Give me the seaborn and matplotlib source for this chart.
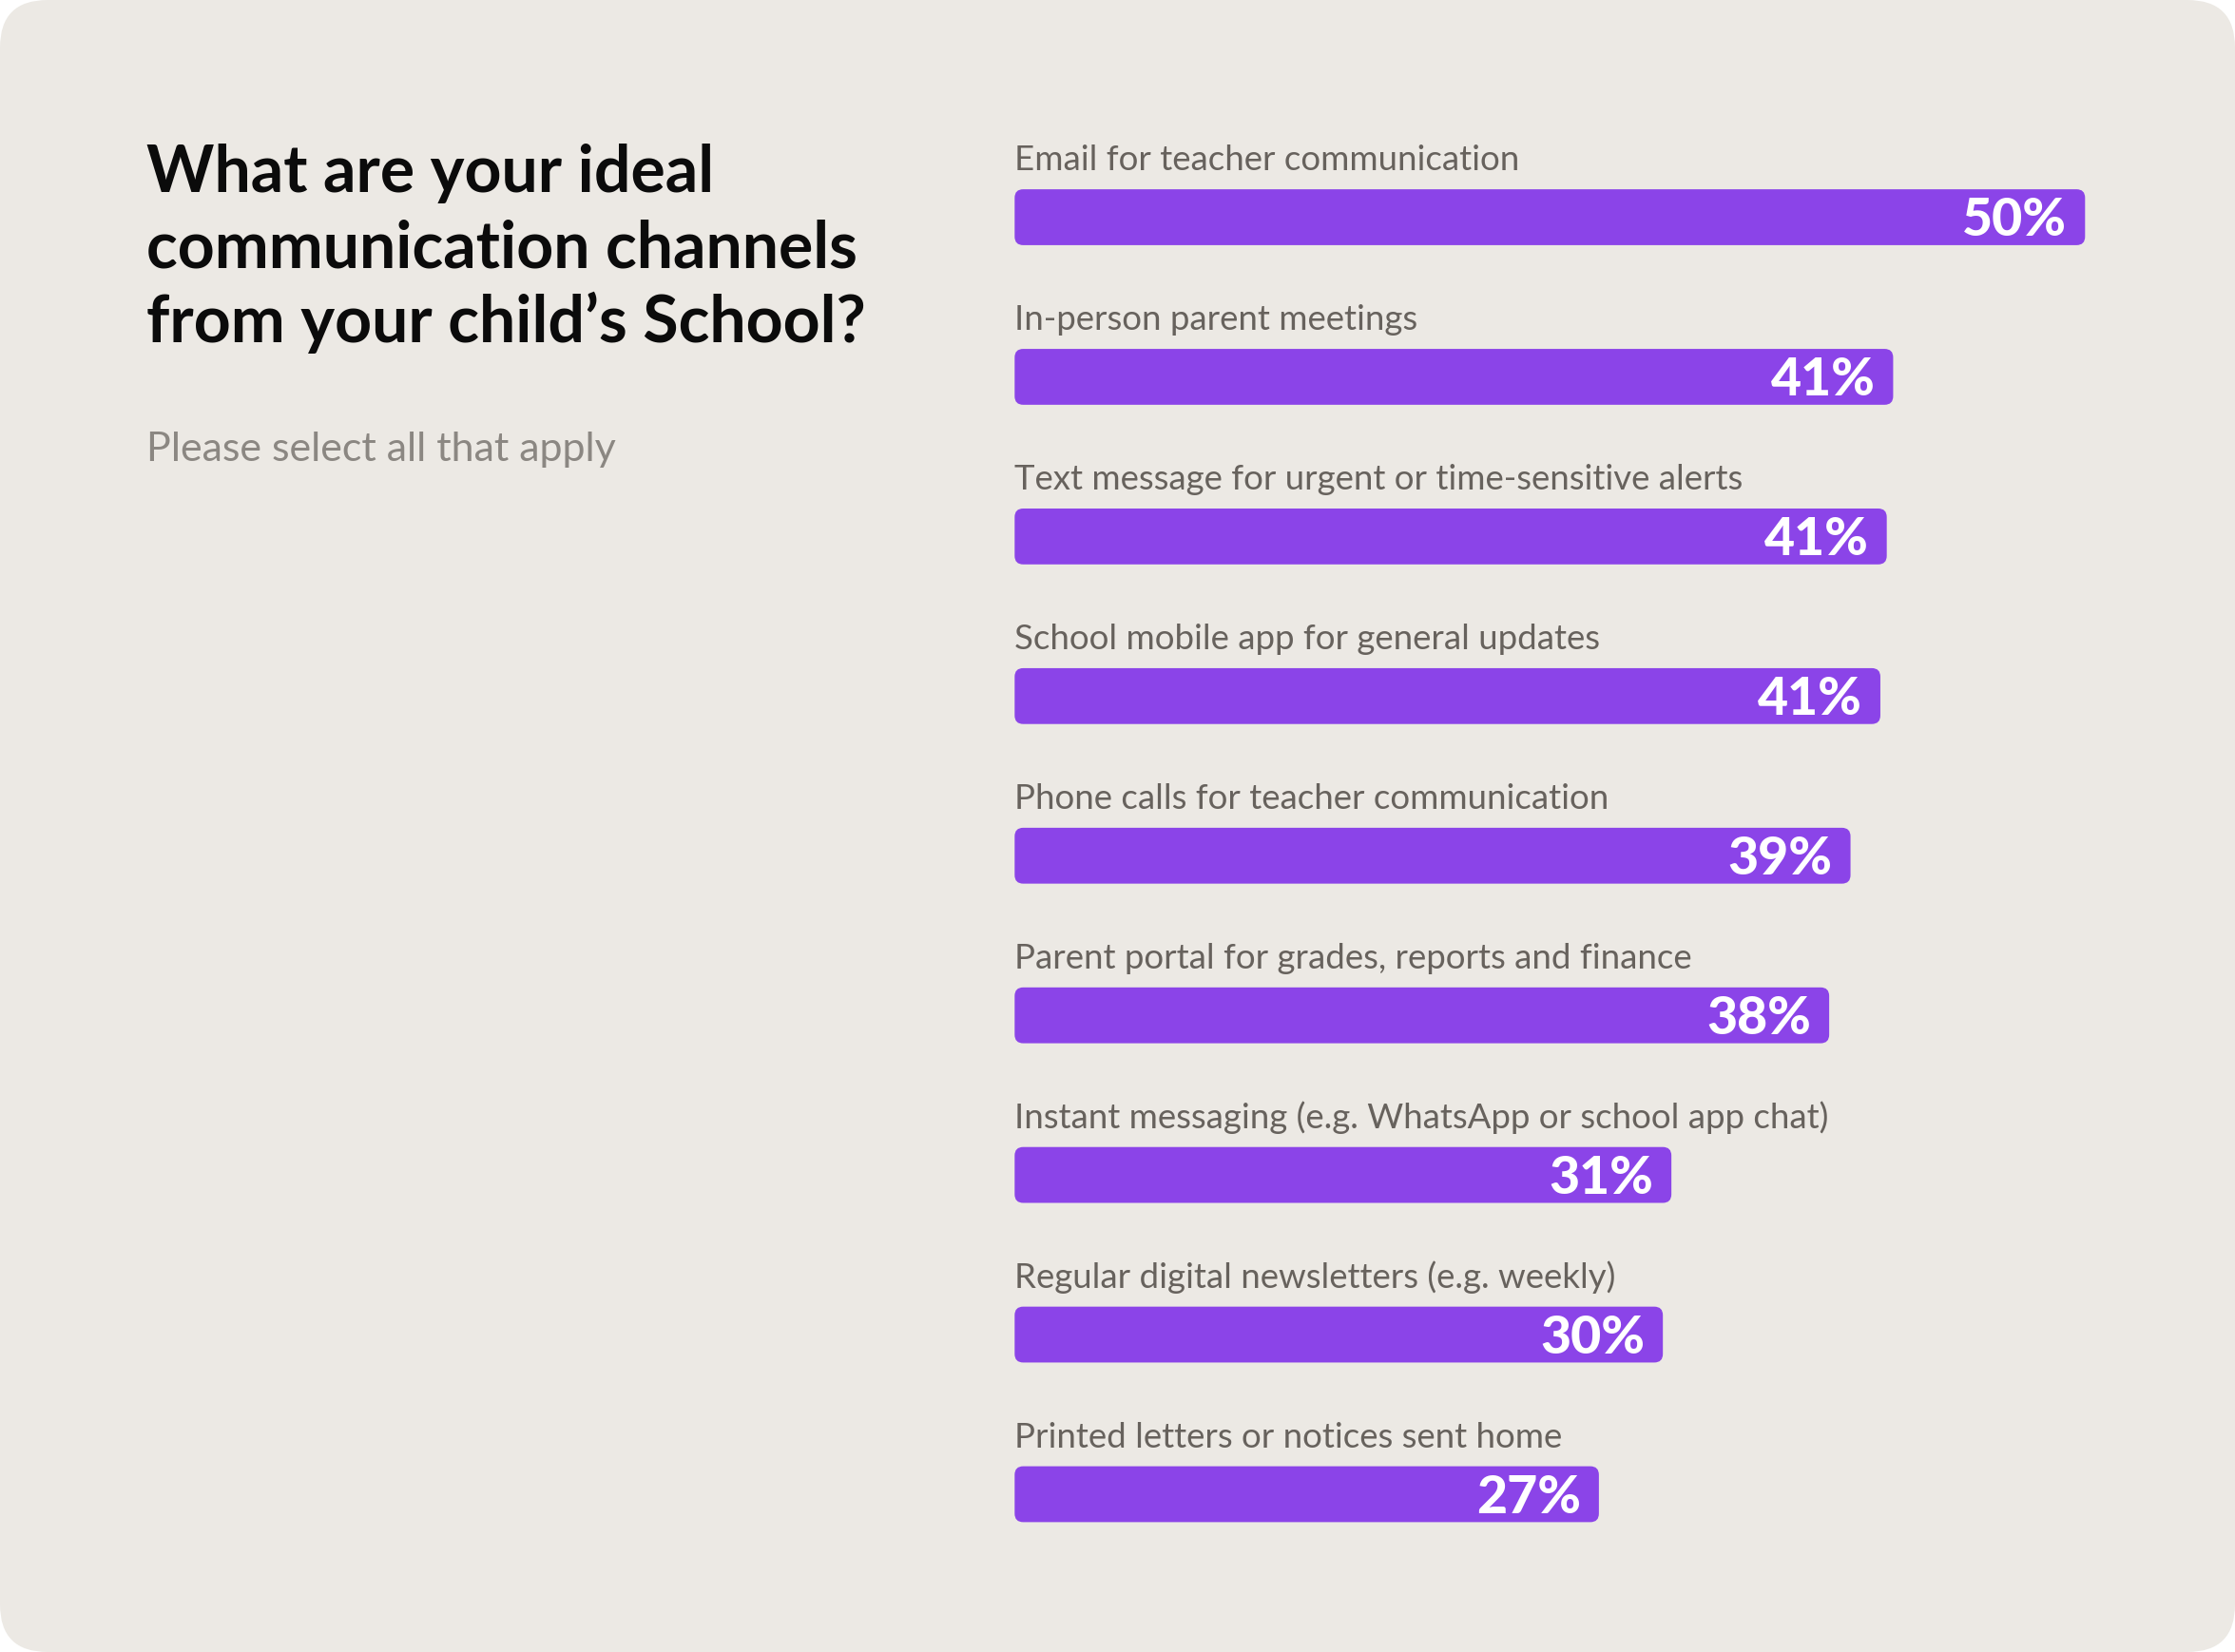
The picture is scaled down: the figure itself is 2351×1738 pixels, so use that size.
import matplotlib
matplotlib.use("Agg")
import matplotlib.pyplot as plt
from matplotlib.patches import FancyBboxPatch
import pandas as pd
import seaborn as sns

# ── Data ──────────────────────────────────────────────────────────────────────
categories = [
    "Email for teacher communication",
    "In-person parent meetings",
    "Text message for urgent or time-sensitive alerts",
    "School mobile app for general updates",
    "Phone calls for teacher communication",
    "Parent portal for grades, reports and finance",
    "Instant messaging (e.g. WhatsApp or school app chat)",
    "Regular digital newsletters (e.g. weekly)",
    "Printed letters or notices sent home",
]
values = [50.2, 41.2, 40.9, 40.6, 39.2, 38.2, 30.8, 30.4, 27.4]

title_lines = ["What are your ideal", "communication channels", "from your child\u2019s School?"]
subtitle = "Please select all that apply"

# ── Style ─────────────────────────────────────────────────────────────────────
W_PX, H_PX, DPI = 2351, 1738, 100
CARD = "#ECE9E4"
BAR = "#8B44E8"
INK = "#0B0B0B"
LABEL = "#67625D"
SUB = "#8B8782"
XMAX = 52

sns.set_theme(style="white")
plt.rcParams["font.family"] = ["Lato", "DejaVu Sans"]

fig = plt.figure(figsize=(W_PX / DPI, H_PX / DPI), dpi=DPI, facecolor="white")
renderer = fig.canvas.get_renderer()


def fit(txt, target_px):
    # scale the font so the text spans target_px
    w = txt.get_window_extent(renderer).width
    txt.set_fontsize(txt.get_fontsize() * target_px / w)
    return txt.get_fontsize()


# card background
bg = fig.add_axes([0, 0, 1, 1], zorder=0)
bg.set_xlim(0, W_PX)
bg.set_ylim(0, H_PX)
bg.axis("off")
bg.add_patch(FancyBboxPatch((0, 0), W_PX, H_PX,
                            boxstyle="round,pad=0,rounding_size=50",
                            fc=CARD, ec="none"))

# title + subtitle
x0 = 154.5 / W_PX
title_base = [202.5, 281.5, 360.5]
probe = fig.text(x0, 0.5, title_lines[1], fontsize=44, fontweight="bold")
tfs = fit(probe, 748)
probe.remove()
for line, yb in zip(title_lines, title_base):
    fig.text(x0, 1 - yb / H_PX, line, fontsize=tfs, fontweight="bold",
             color=INK, ha="left", va="baseline")

sub = fig.text(x0, 1 - 485 / H_PX, subtitle, fontsize=26, color=SUB,
               ha="left", va="baseline")
fit(sub, 494)

# ── Bars ──────────────────────────────────────────────────────────────────────
ax = fig.add_axes([1067.3 / W_PX, 82.05 / H_PX, XMAX * 22.43 / W_PX, 1511.4 / H_PX],
                  zorder=1)
ax.patch.set_alpha(0)
df = pd.DataFrame({"channel": categories, "share": values})
sns.barplot(data=df, x="share", y="channel", orient="h", color=BAR,
            saturation=1, width=0.35, ax=ax)
ax.set_xlim(0, XMAX)
ax.set_ylim(len(categories) - 0.5, -0.5)
ax.axis("off")

px_x = ax.bbox.width / XMAX
px_y = ax.bbox.height / len(categories)
for p in list(ax.patches):
    x, y, w, h = p.get_x(), p.get_y(), p.get_width(), p.get_height()
    p.remove()
    ax.add_patch(FancyBboxPatch((x, y), w, h,
                                boxstyle=f"round,pad=0,rounding_size={9 / px_x}",
                                mutation_aspect=px_x / px_y, fc=BAR, ec="none"))

# font sizes fitted on reference strings
probe = ax.text(0, 0, categories[6], fontsize=22)
lfs = fit(probe, 856)
probe.remove()
probe = ax.text(0, 0, "50%", fontsize=34, fontweight="black")
pfs = fit(probe, 110)
probe.remove()
cap = 0.72 * pfs * DPI / 72
bar_half = 0.35 * px_y / 2

for i, (cat, v) in enumerate(zip(categories, values)):
    ax.annotate(cat, xy=(0, i), xytext=(0, bar_half + 20), textcoords="offset pixels",
                ha="left", va="baseline", color=LABEL, fontsize=lfs)
    ax.annotate(f"{v:.0f}%", xy=(v, i), xytext=(-19, -cap / 2),
                textcoords="offset pixels", ha="right", va="baseline",
                color="white", fontweight="black", fontsize=pfs)

fig.savefig("out.png", dpi=DPI, facecolor="white")
